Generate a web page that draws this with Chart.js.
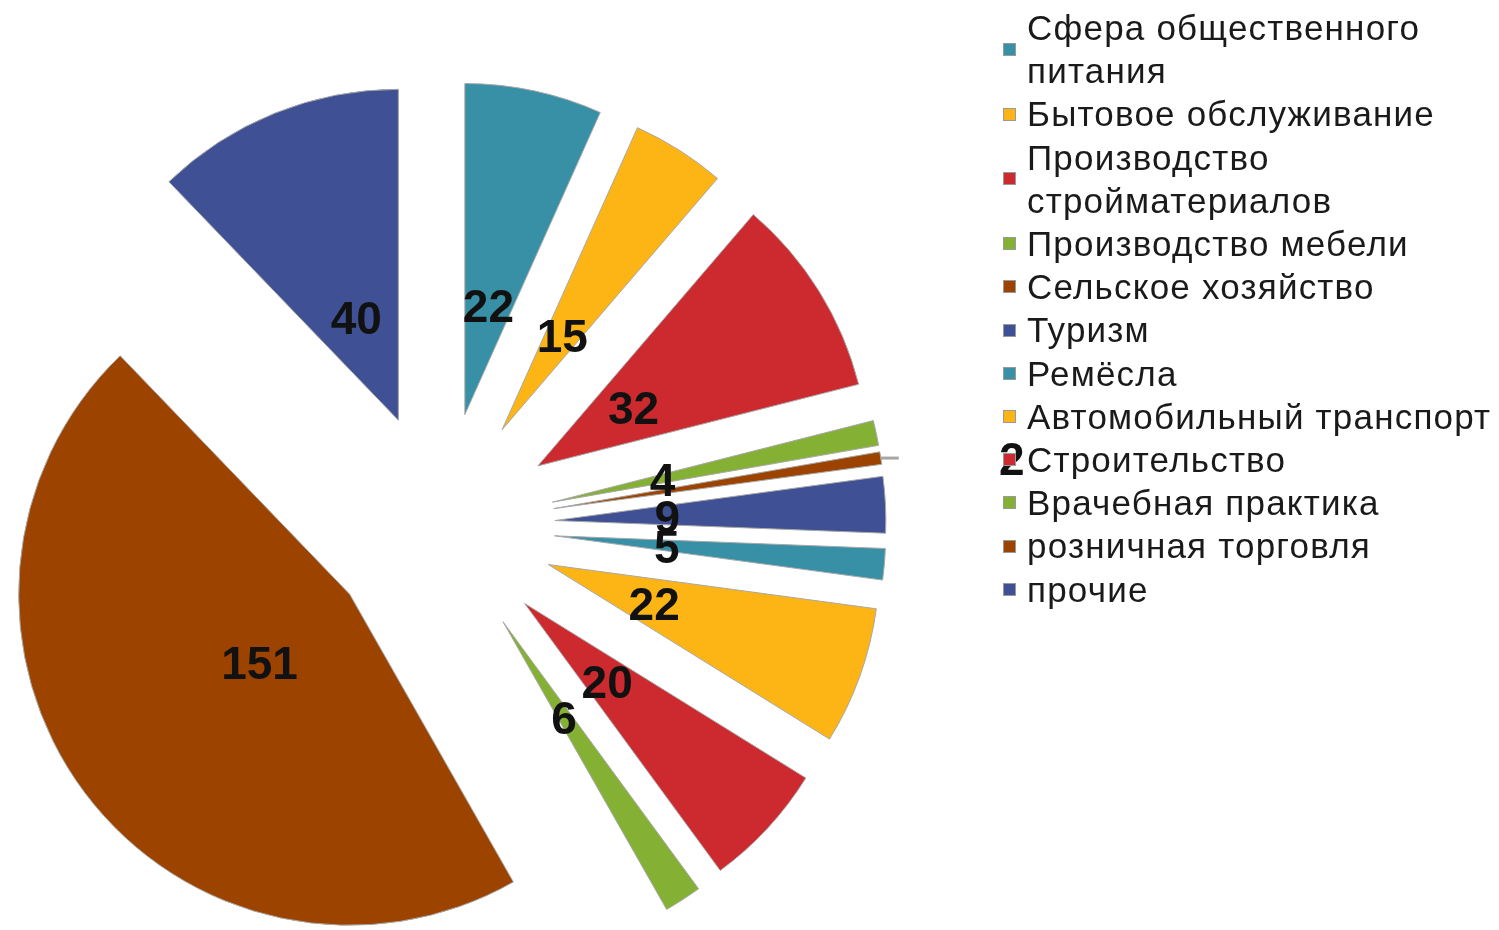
<!DOCTYPE html>
<html>
<head>
<meta charset="utf-8">
<script src="https://cdn.jsdelivr.net/npm/chart.js@4/dist/chart.umd.min.js"></script>
<style>
  html, body { margin: 0; padding: 0; background: #fff; }
  #wrap { position: relative; width: 1499px; height: 930px; overflow: hidden; }
  #legend {
    position: absolute; left: 1003px; top: 6px; width: 494px;
    font-family: "Liberation Sans", Arial, sans-serif; font-size: 35px; letter-spacing: 1.2px;
    line-height: 43.2px; color: #1a1a1a;
  }
  .item { display: flex; align-items: center; }
  .box { width: 13px; height: 13px; flex: none; margin-right: 11px; border: 1px solid #9a9a9a; box-sizing: border-box; }
</style>
</head>
<body>
<div id="wrap">
  <canvas id="pie" width="1499" height="930"></canvas>
  <div id="legend"></div>
</div>
<script>
const categories = [
  'Сфера общественного питания',
  'Бытовое обслуживание',
  'Производство стройматериалов',
  'Производство мебели',
  'Сельское хозяйство',
  'Туризм',
  'Ремёсла',
  'Автомобильный транспорт',
  'Строительство',
  'Врачебная практика',
  'розничная торговля',
  'прочие'
];
const counts = [22, 15, 32, 4, 2, 9, 5, 22, 20, 6, 151, 40];
const sliceColors = [
  '#3790a6', '#fdb515', '#cc2a2f', '#84b034', '#9c4300', '#3f5194',
  '#3790a6', '#fdb515', '#cc2a2f', '#84b034', '#9c4300', '#3f5194'
];

const EXPLODE = 114;

// push every slice out along its middle angle
const explode = {
  id: 'explode',
  afterDatasetUpdate(chart, args) {
    args.meta.data.forEach(arc => {
      const mid = (arc.startAngle + arc.endAngle) / 2;
      arc.x += Math.cos(mid) * EXPLODE;
      arc.y += Math.sin(mid) * EXPLODE;
    });
  }
};

const valueLabels = {
  id: 'valueLabels',
  afterDatasetsDraw(chart) {
    const ctx = chart.ctx;
    const meta = chart.getDatasetMeta(0);
    ctx.save();
    ctx.font = 'bold 46px "Liberation Sans", Arial, sans-serif';
    ctx.fillStyle = '#111';
    ctx.textAlign = 'center';
    ctx.textBaseline = 'middle';
    meta.data.forEach((arc, i) => {
      const mid = (arc.startAngle + arc.endAngle) / 2;
      const cos = Math.cos(mid), sin = Math.sin(mid);
      const v = counts[i];
      if (v <= 2) {
        // too thin for an inside label: leader line and label off to the right
        const ox = arc.x + cos * arc.outerRadius;
        const oy = arc.y + sin * arc.outerRadius;
        ctx.strokeStyle = '#a6a6a6';
        ctx.lineWidth = 3;
        ctx.beginPath();
        ctx.moveTo(ox, oy);
        ctx.lineTo(ox + 18, oy);
        ctx.stroke();
        ctx.fillText(String(v), ox + 131, oy + 4);
      } else {
        const r = arc.outerRadius * 0.34;
        ctx.fillText(String(v), arc.x + cos * r, arc.y + sin * r + 5);
      }
    });
    ctx.restore();
  }
};

new Chart(document.getElementById('pie'), {
  type: 'pie',
  data: {
    labels: categories,
    datasets: [{
      data: counts,
      backgroundColor: sliceColors,
      borderColor: '#a8a8a8',
      borderWidth: 1,
      clip: false
    }]
  },
  options: {
    responsive: false,
    animation: false,
    radius: 331,
    layout: { padding: { left: 0, right: 617, top: 122, bottom: 0 } },
    plugins: {
      legend: { display: false },
      tooltip: { enabled: false }
    }
  },
  plugins: [explode, valueLabels]
});

// legend on the right, built from the same arrays
const legend = document.getElementById('legend');
categories.forEach((name, i) => {
  const item = document.createElement('div');
  item.className = 'item';
  const box = document.createElement('span');
  box.className = 'box';
  box.style.background = sliceColors[i];
  const text = document.createElement('span');
  text.textContent = name;
  item.appendChild(box);
  item.appendChild(text);
  legend.appendChild(item);
});
</script>
</body>
</html>
